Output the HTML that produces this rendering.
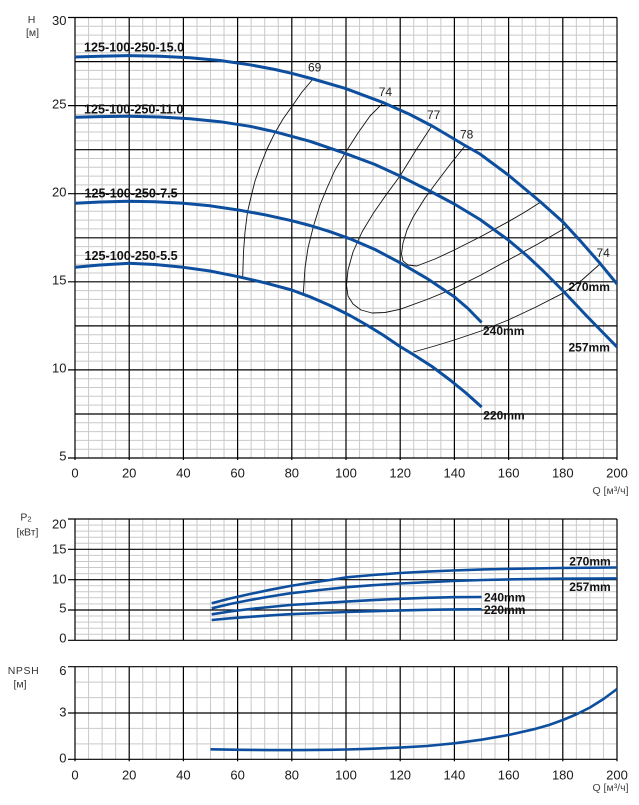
<!DOCTYPE html>
<html><head><meta charset="utf-8">
<style>
html,body{margin:0;padding:0;background:#fff;}
svg{display:block;}
text{font-family:"Liberation Sans",Arial,sans-serif;}
.t{font-size:13px;fill:#1a1a1a;}
.u{font-size:10.5px;fill:#333;}
.b{font-size:12.6px;font-weight:bold;fill:#111;}
.m{font-size:12px;font-weight:bold;fill:#111;}
.e{font-size:12px;fill:#222;}
.mn{fill:none;stroke:#c9c9c9;stroke-width:1;}
.mj{fill:none;stroke:#000;stroke-width:1.2;}
.c{fill:none;stroke:#0d4f9e;stroke-width:3;stroke-linejoin:round;stroke-linecap:butt;}
.c2{fill:none;stroke:#0d4f9e;stroke-width:2.6;stroke-linejoin:round;}
.k{fill:none;stroke:#111;stroke-width:0.9;stroke-linejoin:round;}
</style></head><body>
<svg width="639" height="805" viewBox="0 0 639 805" xmlns="http://www.w3.org/2000/svg">
<!-- ===== TOP CHART GRID ===== -->
<path class="mn" d="M88.55 17.5v440.5M102.1 17.5v440.5M115.65 17.5v440.5M142.75 17.5v440.5M156.3 17.5v440.5M169.85 17.5v440.5M196.95 17.5v440.5M210.5 17.5v440.5M224.05 17.5v440.5M251.15 17.5v440.5M264.7 17.5v440.5M278.25 17.5v440.5M305.35 17.5v440.5M318.9 17.5v440.5M332.45 17.5v440.5M359.55 17.5v440.5M373.1 17.5v440.5M386.65 17.5v440.5M413.75 17.5v440.5M427.3 17.5v440.5M440.85 17.5v440.5M467.95 17.5v440.5M481.5 17.5v440.5M495.05 17.5v440.5M522.15 17.5v440.5M535.7 17.5v440.5M549.25 17.5v440.5M576.35 17.5v440.5M589.9 17.5v440.5M603.45 17.5v440.5"/>
<path class="mn" d="M75 449.2H617M75 440.4H617M75 431.6H617M75 422.8H617M75 405.1H617M75 396.3H617M75 387.5H617M75 378.7H617M75 361.1H617M75 352.3H617M75 343.5H617M75 334.7H617M75 317H617M75 308.2H617M75 299.4H617M75 290.6H617M75 273H617M75 264.2H617M75 255.4H617M75 246.6H617M75 228.9H617M75 220.1H617M75 211.3H617M75 202.5H617M75 184.9H617M75 176.1H617M75 167.3H617M75 158.5H617M75 140.8H617M75 132H617M75 123.2H617M75 114.4H617M75 96.8H617M75 88H617M75 79.2H617M75 70.4H617M75 52.7H617M75 43.9H617M75 35.1H617M75 26.3H617"/>
<path class="mj" d="M75 17.5v442.5M129.2 17.5v442.5M183.4 17.5v442.5M237.6 17.5v442.5M291.8 17.5v442.5M346 17.5v442.5M400.2 17.5v442.5M454.4 17.5v442.5M508.6 17.5v442.5M562.8 17.5v442.5M617 17.5v442.5"/>
<path class="mj" d="M68 458H617M75 414H617M68 369.9H617M75 325.9H617M68 281.8H617M75 237.8H617M68 193.7H617M75 149.7H617M68 105.6H617M75 61.6H617M68 17.5H617"/>

<!-- ===== MIDDLE CHART GRID ===== -->
<path class="mn" d="M88.55 519v121.3M102.1 519v121.3M115.65 519v121.3M142.75 519v121.3M156.3 519v121.3M169.85 519v121.3M196.95 519v121.3M210.5 519v121.3M224.05 519v121.3M251.15 519v121.3M264.7 519v121.3M278.25 519v121.3M305.35 519v121.3M318.9 519v121.3M332.45 519v121.3M359.55 519v121.3M373.1 519v121.3M386.65 519v121.3M413.75 519v121.3M427.3 519v121.3M440.85 519v121.3M467.95 519v121.3M481.5 519v121.3M495.05 519v121.3M522.15 519v121.3M535.7 519v121.3M549.25 519v121.3M576.35 519v121.3M589.9 519v121.3M603.45 519v121.3"/>
<path class="mn" d="M75 634.2H617M75 628.2H617M75 622.1H617M75 616H617M75 603.9H617M75 597.8H617M75 591.8H617M75 585.7H617M75 573.6H617M75 567.5H617M75 561.5H617M75 555.4H617M75 543.3H617M75 537.2H617M75 531.1H617M75 525.1H617"/>
<path class="mj" d="M75 519v121.3M129.2 519v121.3M183.4 519v121.3M237.6 519v121.3M291.8 519v121.3M346 519v121.3M400.2 519v121.3M454.4 519v121.3M508.6 519v121.3M562.8 519v121.3M617 519v121.3"/>
<path class="mj" d="M68 640.3H617M68 610H617M68 579.7H617M68 549.3H617M68 519H617"/>

<!-- ===== BOTTOM CHART GRID ===== -->
<path class="mn" d="M88.55 666.7v92.6M102.1 666.7v92.6M115.65 666.7v92.6M142.75 666.7v92.6M156.3 666.7v92.6M169.85 666.7v92.6M196.95 666.7v92.6M210.5 666.7v92.6M224.05 666.7v92.6M251.15 666.7v92.6M264.7 666.7v92.6M278.25 666.7v92.6M305.35 666.7v92.6M318.9 666.7v92.6M332.45 666.7v92.6M359.55 666.7v92.6M373.1 666.7v92.6M386.65 666.7v92.6M413.75 666.7v92.6M427.3 666.7v92.6M440.85 666.7v92.6M467.95 666.7v92.6M481.5 666.7v92.6M495.05 666.7v92.6M522.15 666.7v92.6M535.7 666.7v92.6M549.25 666.7v92.6M576.35 666.7v92.6M589.9 666.7v92.6M603.45 666.7v92.6"/>
<path class="mn" d="M75 743.9H617M75 728.4H617M75 697.6H617M75 682.1H617"/>
<path class="mj" d="M75 666.7v94.6M129.2 666.7v94.6M183.4 666.7v94.6M237.6 666.7v94.6M291.8 666.7v94.6M346 666.7v94.6M400.2 666.7v94.6M454.4 666.7v94.6M508.6 666.7v94.6M562.8 666.7v94.6M617 666.7v94.6"/>
<path class="mj" d="M68 759.3H617M68 713H617M68 666.7H617"/>

<!-- ===== EFFICIENCY LINES (thin) ===== -->
<polyline class="k" points="313,79 302,92 291.7,106.7 283,119 275,132.7 267,149 260,166.7 255,181 251,197 247.5,212 245,232 243.5,252 242.7,277"/>
<polyline class="k" points="383,103 370,116 358,133 345,153.3 335,170 327,188 320,205 313.3,226.7 308,248 305,268 303.3,293.5"/>
<polyline class="k" points="431.7,126 416,150 400,176 386,195 373.3,213.3 362,232 353,252 348,270 346.5,285 348,296 353,304 361,310 372,313 385,312.5 400,309.3 427,299.5 454.3,288.3 481,275 508.3,260 537,244.5 567,227"/>
<polyline class="k" points="465,146 452,162 438.3,180 425,198 413.3,216.7 407,230 403,243 401.5,254 403,261 408,265 416.7,266 435,259 454.3,250 481,236.5 508.3,221.7 525,212 540,202.5"/>
<polyline class="k" points="600,264 582,280 562.7,293.3 536,307 508.3,320 481,331 454.3,340 433,346.5 413.3,352"/>

<!-- ===== H-Q CURVES ===== -->
<polyline class="c" points="75,57 100,56.2 128,55.6 160,56.2 190,57.8 220,60.5 250,64.8 275,69.5 291.7,73.3 313,79 345,88.3 383,102.5 410,114.5 433,126.5 465,145.5 480,154 508.3,175 540,201.5 562.7,221.7 580,240.5 600,263.3 617,284"/>
<polyline class="c" points="75,117.3 100,116.6 128,116.3 160,117 190,118.7 220,121.7 250,126.3 275,131.8 310,141.3 345,153.3 375,164.5 400,176 431.7,192 454.3,204 480,219.5 508.3,240 526.7,255.5 543.3,271 562.7,290.5 586.7,316 617,347"/>
<polyline class="c" points="75,203.3 100,202 128.3,201.3 155,201.8 183.3,203.3 210,205.8 238.3,210 265,214.8 291.7,220.7 310,225.5 330,231.7 350,238.8 375,249.5 400,262.7 426.7,278.3 454.3,296.7 468,308.5 481.6,322.5"/>
<polyline class="c" points="75,267.3 100,265 128.3,263.3 155,264.5 183.3,267.3 210,271 238.3,276.7 265,282.8 291.7,290 310,296.8 330,305.5 350,315.5 366.7,325 383,335 400,346.5 413.3,354.5 432,366.5 450,380 466,393 481.6,407"/>

<!-- ===== P2 CURVES ===== -->
<polyline class="c2" points="211.7,603.3 230,598.5 250,594 270,589.8 290,586 310,582.8 330,580 346.7,577.3 373,575 400,573 427,571.6 453,570.5 483,569.4 513,568.8 560,568 617,567.5"/>
<polyline class="c2" points="211.7,608.3 230,604 250,600 270,596.5 290,593.3 320,590 346.7,587.2 373,585.2 400,583.5 427,582.2 453,581 483,580 513,579.3 560,578.7 617,578.4"/>
<polyline class="c2" points="211.7,614.3 230,611.5 250,609 270,607 290,605 320,603.2 346.7,601.6 373,600.1 400,598.8 427,597.8 453,597.2 481.6,597"/>
<polyline class="c2" points="211.7,620 230,618.3 250,616.8 270,615.4 290,614.2 320,613 346.7,612 373,611.2 400,610.4 427,609.8 453,609.4 481.6,609.3"/>

<!-- ===== NPSH CURVE ===== -->
<polyline class="c2" points="210.5,749.3 240,749.8 270,750.1 300,750.1 330,749.8 346,749.5 370,748.8 400,747.6 427,746 454.3,743.3 481.5,739.7 508.6,735 535.7,728.8 549,725 562.8,720 576,714.5 590,707.5 603.5,699 617,689"/>

<!-- ===== TEXT: top chart ===== -->
<text class="u" x="31.5" y="23" text-anchor="middle">H</text>
<text class="u" x="32.5" y="36" text-anchor="middle">[м]</text>
<g class="t" text-anchor="end">
<text x="66.5" y="25">30</text>
<text x="66.5" y="108.5">25</text>
<text x="66.5" y="196.5">20</text>
<text x="66.5" y="284.5">15</text>
<text x="66.5" y="372.5">10</text>
<text x="66.5" y="460.5">5</text>
</g>
<g class="t" text-anchor="middle">
<text x="75" y="477.3">0</text>
<text x="129.2" y="477.3">20</text>
<text x="183.4" y="477.3">40</text>
<text x="237.6" y="477.3">60</text>
<text x="291.8" y="477.3">80</text>
<text x="346" y="477.3">100</text>
<text x="400.2" y="477.3">120</text>
<text x="454.4" y="477.3">140</text>
<text x="508.6" y="477.3">160</text>
<text x="562.8" y="477.3">180</text>
<text x="617" y="477.3">200</text>
</g>
<text class="u" x="628.5" y="494" text-anchor="end" style="font-size:10.5px;fill:#444">Q [м³/ч]</text>

<text class="b" x="84" y="51.7">125-100-250-15.0</text>
<text class="b" x="84" y="113.3">125-100-250-11.0</text>
<text class="b" x="84.5" y="197.5">125-100-250-7.5</text>
<text class="b" x="84.5" y="260">125-100-250-5.5</text>

<text class="e" x="308" y="71.7">69</text>
<text class="e" x="378.7" y="96">74</text>
<text class="e" x="427" y="119">77</text>
<text class="e" x="460" y="138.3">78</text>
<text class="e" x="596.5" y="257">74</text>

<text class="m" x="568.5" y="291">270mm</text>
<text class="m" x="568.5" y="351.7">257mm</text>
<text class="m" x="483" y="335">240mm</text>
<text class="m" x="483.3" y="419.3">220mm</text>

<!-- ===== TEXT: middle chart ===== -->
<text class="u" x="26" y="520.7" text-anchor="middle">P<tspan style="font-size:7.5px" dy="1">2</tspan></text>
<text class="u" x="27.5" y="535.5" text-anchor="middle">[кВт]</text>
<g class="t" text-anchor="end">
<text x="66.5" y="528.3">20</text>
<text x="66.5" y="553.3">15</text>
<text x="66.5" y="583.3">10</text>
<text x="66.5" y="612.7">5</text>
<text x="66.5" y="642.7">0</text>
</g>
<text class="m" x="569.3" y="565.7">270mm</text>
<text class="m" x="569.3" y="591">257mm</text>
<text class="m" x="484" y="601.7">240mm</text>
<text class="m" x="484" y="614">220mm</text>

<!-- ===== TEXT: bottom chart ===== -->
<text class="u" x="23.5" y="674" text-anchor="middle" style="letter-spacing:0.6px">NPSH</text>
<text class="u" x="20" y="687.3" text-anchor="middle">[м]</text>
<g class="t" text-anchor="end">
<text x="66.5" y="675">6</text>
<text x="66.5" y="716.7">3</text>
<text x="66.5" y="762.7">0</text>
</g>
<g class="t" text-anchor="middle">
<text x="75" y="779.3">0</text>
<text x="129.2" y="779.3">20</text>
<text x="183.4" y="779.3">40</text>
<text x="237.6" y="779.3">60</text>
<text x="291.8" y="779.3">80</text>
<text x="346" y="779.3">100</text>
<text x="400.2" y="779.3">120</text>
<text x="454.4" y="779.3">140</text>
<text x="508.6" y="779.3">160</text>
<text x="562.8" y="779.3">180</text>
<text x="617" y="779.3">200</text>
</g>
<text class="u" x="628.5" y="791" text-anchor="end" style="font-size:10.5px;fill:#444">Q [м³/ч]</text>
</svg>
</body></html>
